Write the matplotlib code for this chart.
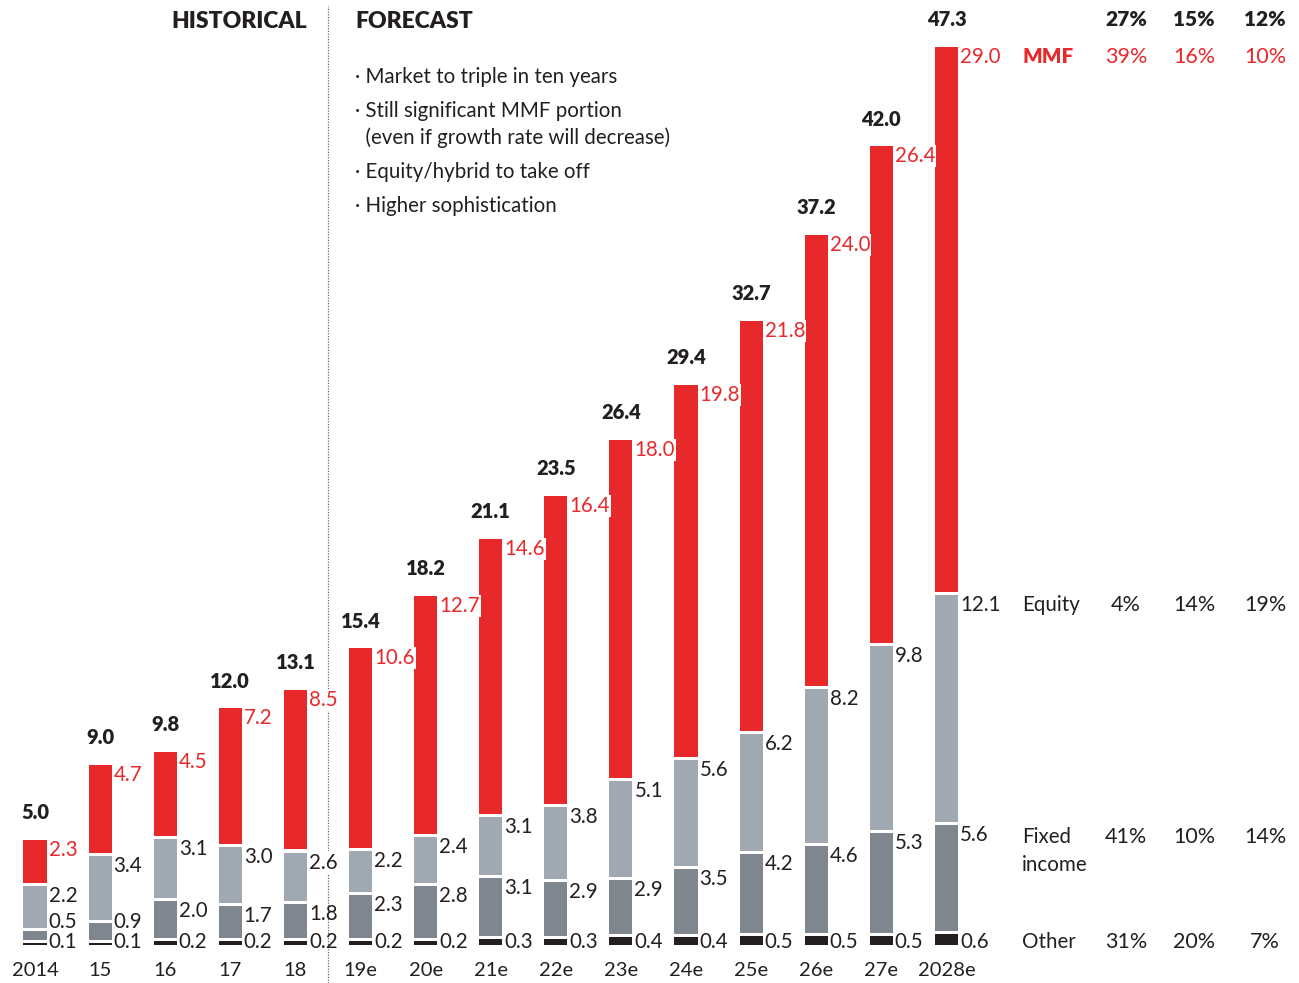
import matplotlib.pyplot as plt

# ── Data ──────────────────────────────────────────────────────────────────────
years = ['2014', '15', '16', '17', '18', '19e', '20e', '21e', '22e', '23e',
         '24e', '25e', '26e', '27e', '2028e']
other = [0.1, 0.1, 0.2, 0.2, 0.2, 0.2, 0.2, 0.3, 0.3, 0.4, 0.4, 0.5, 0.5, 0.5, 0.6]
fixed_income = [0.5, 0.9, 2.0, 1.7, 1.8, 2.3, 2.8, 3.1, 2.9, 2.9, 3.5, 4.2, 4.6, 5.3, 5.6]
equity = [2.2, 3.4, 3.1, 3.0, 2.6, 2.2, 2.4, 3.1, 3.8, 5.1, 5.6, 6.2, 8.2, 9.8, 12.1]
mmf = [2.3, 4.7, 4.5, 7.2, 8.5, 10.6, 12.7, 14.6, 16.4, 18.0, 19.8, 21.8, 24.0, 26.4, 29.0]
totals = [5.0, 9.0, 9.8, 12.0, 13.1, 15.4, 18.2, 21.1, 23.5, 26.4, 29.4, 32.7, 37.2, 42.0, 47.3]

cagr_head = ['27%', '15%', '12%']
cagr_mmf = ['39%', '16%', '10%']
cagr_equity = ['4%', '14%', '19%']
cagr_fixed = ['41%', '10%', '14%']
cagr_other = ['31%', '20%', '7%']

bullets = ['· Market to triple in ten years',
           '· Still significant MMF portion',
           '  (even if growth rate will decrease)',
           '· Equity/hybrid to take off',
           '· Higher sophistication']

# ── Style ─────────────────────────────────────────────────────────────────────
RED = '#E8292C'
LIGHT = '#A0A9B1'
DARK = '#7F868E'
BLACK = '#231F20'
TXT = '#231F20'
plt.rcParams['font.family'] = ['Lato', 'DejaVu Sans']

W, H = 1299, 983
X0, XSTEP = 35, 65.1       # pixel centre of first bar, spacing
Y0, YSCALE = 945, 18.8     # pixel of zero line, pixels per unit
GAP = 0.16                 # white gap between stacked segments
BW = 0.355

fig = plt.figure(figsize=(W / 100, H / 100), dpi=100)
ax = fig.add_axes([0, 0, 1, 1])
ax.set_xlim(-X0 / XSTEP, (W - X0) / XSTEP)
ax.set_ylim(-(H - Y0) / YSCALE, Y0 / YSCALE)
ax.set_axis_off()


def px_x(p):
    return (p - X0) / XSTEP


def px_y(p):
    return (Y0 - p) / YSCALE


x = list(range(len(years)))
b_fixed = [o + GAP for o in other]
b_eq = [o + f + 2 * GAP for o, f in zip(other, fixed_income)]
b_mmf = [o + f + e + 3 * GAP for o, f, e in zip(other, fixed_income, equity)]
tops = [b + m for b, m in zip(b_mmf, mmf)]

ax.bar(x, other, BW, color=BLACK, linewidth=0)
ax.bar(x, fixed_income, BW, bottom=b_fixed, color=DARK, linewidth=0)
ax.bar(x, equity, BW, bottom=b_eq, color=LIGHT, linewidth=0)
ax.bar(x, mmf, BW, bottom=b_mmf, color=RED, linewidth=0)

FS = 14.8
lab_x = [i + BW / 2 + 0.03 for i in x]
box = dict(boxstyle='square,pad=0.05', facecolor='white', edgecolor='none')

for i in x:
    ax.text(lab_x[i], 0.15, f'{other[i]:.1f}', fontsize=FS, color=TXT,
            ha='left', va='center')
    ax.text(lab_x[i], max(b_eq[i] - GAP, 1.75), f'{fixed_income[i]:.1f}',
            fontsize=FS, color=TXT, ha='left', va='top')
    ax.text(lab_x[i], b_mmf[i] - GAP, f'{equity[i]:.1f}', fontsize=FS,
            color=TXT, ha='left', va='top', bbox=box)
    ax.text(lab_x[i], tops[i], f'{mmf[i]:.1f}', fontsize=FS, color=RED,
            ha='left', va='top', bbox=box)
    ax.annotate(f'{totals[i]:.1f}', xy=(i, tops[i]), xytext=(0, 15),
                textcoords='offset points', ha='center', va='baseline',
                fontsize=14.5, fontweight='heavy', color=TXT)
    ax.text(i, px_y(971), years[i], fontsize=14.5, color=TXT,
            ha='center', va='center')

# ── Legend / growth table on the right ────────────────────────────────────────
last = len(years) - 1
col_x = [px_x(1126), px_x(1194), px_x(1265)]
lx = px_x(1022)
rows = [
    ('MMF', tops[last], cagr_mmf, RED, 'heavy'),
    ('Equity', b_mmf[last] - GAP, cagr_equity, TXT, 'normal'),
    ('Fixed\nincome', b_eq[last] - GAP - 0.1, cagr_fixed, TXT, 'normal'),
]
for name, yy, vals, col, wt in rows:
    ax.text(lx, yy, name, fontsize=FS, color=col, fontweight=wt,
            ha='left', va='top', linespacing=1.5)
    for cx, v in zip(col_x, vals):
        ax.text(cx, yy, v, fontsize=15.5, color=col, ha='center', va='top')
ax.text(lx, 0.15, 'Other', fontsize=FS, color=TXT, ha='left', va='center')
for cx, v in zip(col_x, cagr_other):
    ax.text(cx, 0.15, v, fontsize=15.5, color=TXT, ha='center', va='center')
for cx, v in zip(col_x, cagr_head):
    ax.annotate(v, xy=(cx, tops[last]), xytext=(0, 15),
                textcoords='offset points', ha='center', va='baseline',
                fontsize=15, fontweight='heavy', color=TXT)

# ── Historical / forecast divider and notes ───────────────────────────────────
split = 4.5
ax.plot([split, split], [px_y(983), px_y(6)], color='#666666',
        linestyle=(0, (1, 1.2)), linewidth=0.9)
ax.text(px_x(307), px_y(21), 'HISTORICAL', fontsize=16.5, fontweight='heavy',
        color=TXT, ha='right', va='center')
ax.text(px_x(355), px_y(21), 'FORECAST', fontsize=16.5, fontweight='heavy',
        color=TXT, ha='left', va='center')

yb = 77
steps = [34, 27, 34, 34, 0]
for line, st in zip(bullets, steps):
    ax.text(px_x(355), px_y(yb), line, fontsize=14.8, color=TXT,
            ha='left', va='center')
    yb += st

fig.savefig('out.png', dpi=100, facecolor='white')
